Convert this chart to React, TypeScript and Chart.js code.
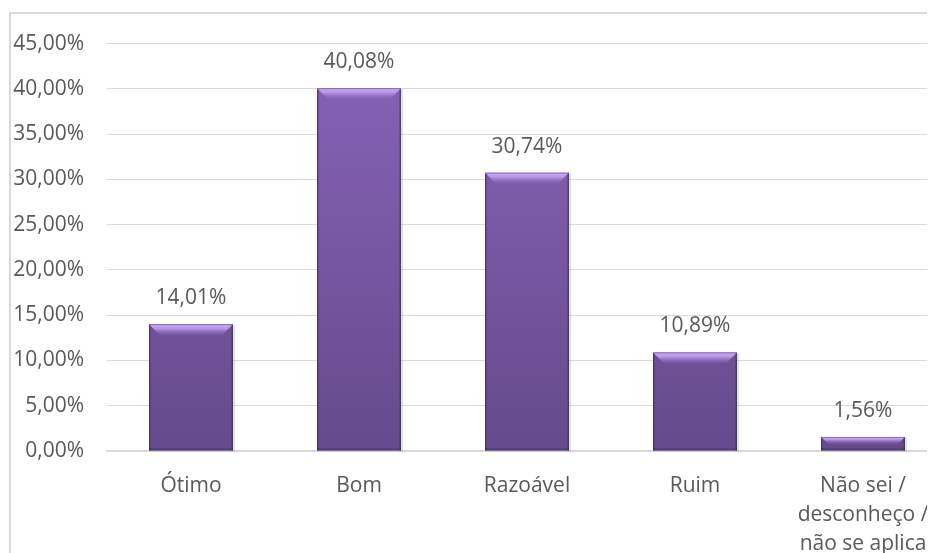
import React, { useEffect, useRef } from "react";
import { Chart, registerables } from "chart.js";

Chart.register(...registerables);

const categories: (string | string[])[] = [
  "Ótimo",
  "Bom",
  "Razoável",
  "Ruim",
  ["Não sei /", "desconheço /", "não se aplica"],
];
const values: number[] = [14.01, 40.08, 30.74, 10.89, 1.56];
const yMin = 0;
const yMax = 45;
const yStep = 5;

const FONT = "'Open Sans', 'Noto Sans', sans-serif";
const FONT_SIZE = 21;
const TEXT = "#595959";
const GRID = "#d9d9d9";

const fmt = (v: number) => v.toFixed(2).replace(".", ",") + "%";

const framePlugin = {
  id: "frame",
  beforeDraw(chart: any) {
    const ctx = chart.ctx;
    ctx.save();
    ctx.fillStyle = "#ffffff";
    ctx.fillRect(0, 0, chart.width, chart.height);
    ctx.strokeStyle = GRID;
    ctx.lineWidth = 2;
    ctx.strokeRect(2, 5, chart.width + 20, chart.height + 20);
    ctx.restore();
  },
};

const bevelPlugin = {
  id: "bevel",
  beforeDatasetsDraw(chart: any) {
    const ctx = chart.ctx;
    const meta = chart.getDatasetMeta(0);
    ctx.save();
    meta.data.forEach((bar: any) => {
      const w = bar.width;
      const l = bar.x - w / 2;
      const t = bar.y;
      const h = bar.base - bar.y;
      ctx.fillStyle = "rgba(0,0,0,0.12)";
      ctx.fillRect(l + 2, t + 1, w, h);
    });
    ctx.restore();
  },
  afterDatasetsDraw(chart: any) {
    const ctx = chart.ctx;
    const meta = chart.getDatasetMeta(0);
    ctx.save();
    meta.data.forEach((bar: any) => {
      const w = bar.width;
      const l = bar.x - w / 2;
      const r = bar.x + w / 2;
      const t = bar.y;
      const b = bar.base;
      const h = b - t;
      const d = Math.min(11, h / 2);
      // top bevel
      const g = ctx.createLinearGradient(0, t, 0, t + d);
      g.addColorStop(0, "#c9adf5");
      g.addColorStop(0.4, "#b696e6");
      g.addColorStop(1, "rgba(140,104,190,0.2)");
      ctx.fillStyle = g;
      ctx.beginPath();
      ctx.moveTo(l, t);
      ctx.lineTo(r, t);
      ctx.lineTo(r - d, t + d);
      ctx.lineTo(l + d, t + d);
      ctx.closePath();
      ctx.fill();
      // sides
      ctx.fillStyle = "rgba(60,40,95,0.6)";
      ctx.fillRect(l, t + 1, 1.5, h - 1);
      ctx.fillRect(r - 1.5, t + 1, 1.5, h - 1);
      // bottom
      ctx.fillStyle = "rgba(60,40,95,0.45)";
      ctx.fillRect(l, b - 2, w, 2);
      // top edge
      ctx.fillStyle = "rgba(90,60,130,0.55)";
      ctx.fillRect(l, t, w, 1);
    });
    ctx.restore();
  },
};

const labelPlugin = {
  id: "valueLabels",
  afterDatasetsDraw(chart: any) {
    const ctx = chart.ctx;
    const meta = chart.getDatasetMeta(0);
    ctx.save();
    ctx.font = `${FONT_SIZE}px ${FONT}`;
    ctx.fillStyle = TEXT;
    ctx.textAlign = "center";
    ctx.textBaseline = "middle";
    meta.data.forEach((bar: any, i: number) => {
      ctx.fillText(fmt(values[i]), bar.x, bar.y - 26);
    });
    ctx.restore();
  },
};

export default function App() {
  const ref = useRef<HTMLCanvasElement | null>(null);

  useEffect(() => {
    if (!ref.current) return;
    const chart = new Chart(ref.current, {
      type: "bar",
      data: {
        labels: categories,
        datasets: [
          {
            data: values,
            backgroundColor: (c: any) => {
              const area = c.chart.chartArea;
              if (!area) return "#7556a0";
              const g = c.chart.ctx.createLinearGradient(0, area.top, 0, area.bottom);
              g.addColorStop(0, "#8863b8");
              g.addColorStop(0.5, "#7757a3");
              g.addColorStop(1, "#654a8c");
              return g;
            },
            borderWidth: 0,
            barPercentage: 0.5,
            categoryPercentage: 1,
          },
        ],
      },
      options: {
        responsive: false,
        animation: false,
        maintainAspectRatio: false,
        layout: { padding: { top: 35, left: 0, right: 21, bottom: 0 } },
        plugins: {
          legend: { display: false },
          tooltip: { enabled: false },
        },
        scales: {
          x: {
            grid: { display: false, drawTicks: false },
            border: { color: GRID, width: 2 },
            ticks: {
              color: TEXT,
              font: { family: FONT, size: FONT_SIZE, lineHeight: 1.4 },
              padding: 20,
              maxRotation: 0,
              autoSkip: false,
            },
            afterFit: (s: any) => {
              s.height = 117;
            },
          },
          y: {
            min: yMin,
            max: yMax,
            grid: { color: GRID, lineWidth: 1, drawTicks: false },
            border: { display: false },
            ticks: {
              stepSize: yStep,
              color: TEXT,
              font: { family: FONT, size: FONT_SIZE },
              padding: 23,
              callback: (v: any) => fmt(Number(v)),
            },
            afterFit: (s: any) => {
              s.width = 99;
            },
          },
        },
      },
      plugins: [framePlugin, bevelPlugin, labelPlugin],
    });
    return () => chart.destroy();
  }, []);

  return (
    <div style={{ width: 927, height: 545, overflow: "hidden", position: "relative" }}>
      <canvas
        ref={ref}
        width={960}
        height={560}
        style={{ position: "absolute", left: 0, top: 0, width: 960, height: 560 }}
      />
    </div>
  );
}
